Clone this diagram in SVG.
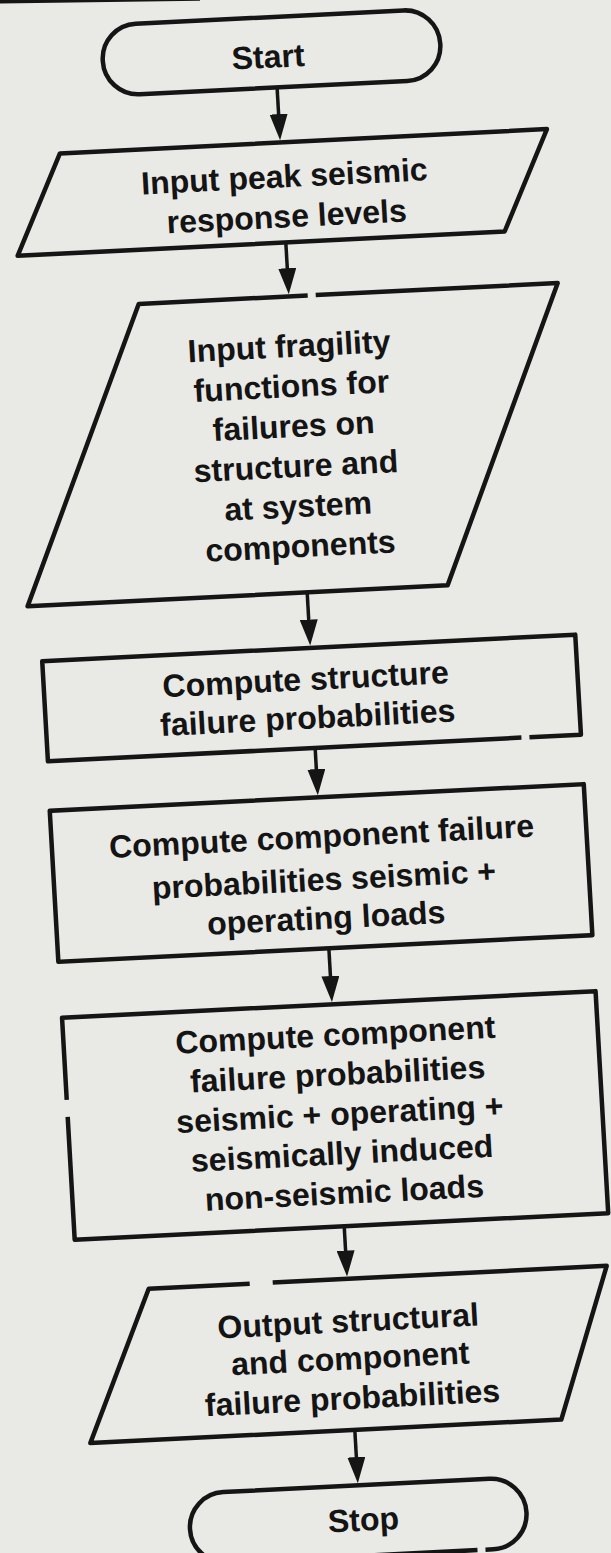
<svg xmlns="http://www.w3.org/2000/svg" width="611" height="1553" viewBox="0 0 611 1553">
  <defs>
    <style>
      .shape { fill: none; stroke: #151515; stroke-width: 4.5; stroke-linejoin: round; }
      .lbl { font-family: "Liberation Sans", Arial, sans-serif; font-weight: bold; font-size: 32px; fill: #141414; text-anchor: middle; }
      .edge { fill: none; stroke: #151515; stroke-width: 3.5; marker-end: url(#ah); }
    </style>
    <marker id="ah" markerUnits="userSpaceOnUse" viewBox="0 0 26 18" markerWidth="26" markerHeight="18" refX="16" refY="9" orient="auto">
      <path d="M0,0 L26,9 L0,18 Z" fill="#151515"/>
    </marker>
  </defs>

  <!-- page -->
  <rect width="611" height="1553" fill="#e9e9e6"/>
  <!-- border rule of the previous figure along the top edge -->
  <line x1="0" y1="1.2" x2="200" y2="-1.6" stroke="#151515" stroke-width="4.5"/>

  <!-- the whole chart sits slightly tilted on the page -->
  <g id="chart" transform="matrix(1,-0.05,0.057,1,-44.23,15.25)">

    <g id="start">
      <rect class="shape" x="144" y="17.5" width="337.5" height="70.5" rx="35" ry="35"/>
      <text class="lbl" x="309" y="68">Start</text>
    </g>

    <g id="input-response">
      <polygon class="shape" points="96,143 583,143 535,243 48,243"/>
      <text class="lbl" x="318.5" y="188">Input peak seismic</text>
      <text class="lbl" x="318.5" y="228">response levels</text>
    </g>

    <g id="input-fragility">
      <!-- outline drawn open where the print has a break in the top edge -->
      <path class="shape" d="M343,297 H585 L458,593 H38 L166,297 H335"/>
      <text class="lbl" x="313.5" y="357.5">Input fragility</text>
      <text class="lbl" x="313.5" y="397.5">functions for</text>
      <text class="lbl" x="313.5" y="437.5">failures on</text>
      <text class="lbl" x="313.5" y="477.5">structure and</text>
      <text class="lbl" x="313.5" y="517.5">at system</text>
      <text class="lbl" x="313.5" y="557.5">components</text>
    </g>

    <g id="structure-prob">
      <path class="shape" d="M531,748.5 H582.5 V648.5 H49.5 V748.5 H523"/>
      <text class="lbl" x="311" y="690.5">Compute structure</text>
      <text class="lbl" x="311" y="729">failure probabilities</text>
    </g>

    <g id="component-prob-operating">
      <rect class="shape" x="48.5" y="798" width="534" height="151"/>
      <text class="lbl" x="318" y="848">Compute component failure</text>
      <text class="lbl" x="318" y="891">probabilities seismic +</text>
      <text class="lbl" x="318" y="929.5">operating loads</text>
    </g>

    <g id="component-prob-induced">
      <path class="shape" d="M49,1104 V1227 H582.5 V1005 H49 V1087"/>
      <text class="lbl" x="320.5" y="1046.5">Compute component</text>
      <text class="lbl" x="320.5" y="1086">failure probabilities</text>
      <text class="lbl" x="320.5" y="1125.5">seismic + operating +</text>
      <text class="lbl" x="320.5" y="1165">seismically induced</text>
      <text class="lbl" x="320.5" y="1204.5">non-seismic loads</text>
    </g>

    <g id="output">
      <path class="shape" d="M244,1279.5 H578 L524,1430.5 H53 L120,1279.5 H221"/>
      <text class="lbl" x="317" y="1332.5">Output structural</text>
      <text class="lbl" x="317" y="1370">and component</text>
      <text class="lbl" x="317" y="1409.5">failure probabilities</text>
    </g>

    <g id="stop">
      <path class="shape" d="M433,1556.5 H182.75 A35.25,35.25 0 0 1 182.75,1486 H448.75 A35.25,35.25 0 0 1 448.75,1556.5 H441"/>
      <text class="lbl" x="321" y="1531.5">Stop</text>
    </g>

    <g id="connectors">
      <line class="edge" x1="316.3" y1="88" x2="316.3" y2="130.75"/>
      <line class="edge" x1="316.2" y1="243" x2="316.2" y2="284.75"/>
      <line class="edge" x1="317.6" y1="593" x2="317.6" y2="636.25"/>
      <line class="edge" x1="316.7" y1="748.5" x2="316.7" y2="785.75"/>
      <line class="edge" x1="319" y1="949" x2="319" y2="992.75"/>
      <line class="edge" x1="318.5" y1="1227" x2="318.5" y2="1267.25"/>
      <line class="edge" x1="317.5" y1="1430.5" x2="317.5" y2="1473.75"/>
    </g>
  </g>
</svg>
